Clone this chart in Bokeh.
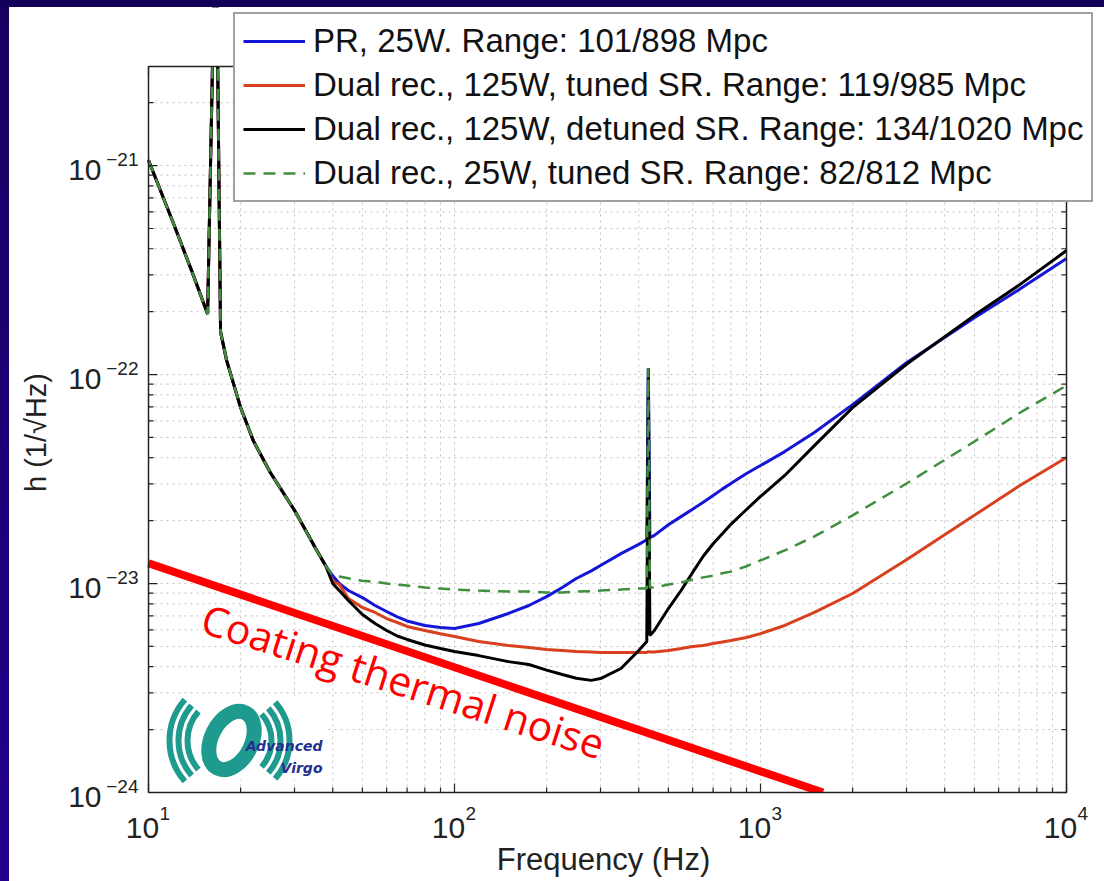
import math
from bokeh.plotting import figure
from bokeh.models import Legend, LegendItem, Label, Spacer
from bokeh.layouts import column, row
from bokeh.embed import file_html
from bokeh.resources import INLINE

# ---------------- data ----------------
freq = [10, 12, 14, 15.6, 16.6, 17.2, 18, 20, 22, 25, 30, 35, 38,
        40, 42, 45, 50, 55, 60, 65, 70, 80, 90, 100, 120, 150, 175, 200, 225, 250, 280,
        300, 350, 400, 425, 430, 435, 450, 500, 550, 600, 650, 700, 750, 800, 900, 1000,
        1200, 1500, 2000, 3000, 5000, 7000, 10000]

low_common = [1.06e-21, 5.4e-22, 3.0e-22, 1.95e-22, 2e-20, 1.6e-22, 1.17e-22,
              6.95e-23, 4.83e-23, 3.4e-23, 2.24e-23, 1.49e-23, 1.21e-23]

pr_25w = low_common + [
    1.09e-23, 1.0e-23, 9.26e-24, 8.57e-24, 7.85e-24, 7.35e-24, 6.92e-24, 6.62e-24, 6.30e-24, 6.16e-24,
    6.09e-24, 6.44e-24, 7.19e-24, 7.85e-24, 8.66e-24, 9.57e-24, 1.057e-23, 1.15e-23,
    1.22e-23, 1.39e-23, 1.54e-23, 1.62e-23, 1.07e-22, 1.66e-23, 1.70e-23, 1.91e-23, 2.09e-23,
    2.27e-23, 2.45e-23, 2.64e-23, 2.83e-23, 3.01e-23, 3.36e-23, 3.67e-23,
    4.28e-23, 5.28e-23, 7.18e-23, 1.14e-22, 1.87e-22, 2.55e-22, 3.59e-22]

dr_125w_tuned = low_common + [
    1.03e-23, 9.9e-24, 8.48e-24, 7.68e-24, 7.27e-24, 6.80e-24, 6.51e-24, 6.23e-24, 5.96e-24, 5.75e-24,
    5.58e-24, 5.28e-24, 5.05e-24, 4.94e-24, 4.83e-24, 4.78e-24, 4.73e-24, 4.70e-24,
    4.68e-24, 4.68e-24, 4.68e-24, 4.68e-24, 4.72e-24, 4.70e-24, 4.70e-24, 4.78e-24, 4.89e-24,
    5.0e-24, 5.05e-24, 5.16e-24, 5.25e-24, 5.34e-24, 5.52e-24, 5.76e-24,
    6.30e-24, 7.27e-24, 8.96e-24, 1.30e-23, 2.12e-23, 2.93e-23, 4.01e-23]

dr_125w_detuned = low_common + [
    1.0e-23, 9.26e-24, 8.29e-24, 7.11e-24, 6.44e-24, 5.96e-24, 5.61e-24, 5.40e-24, 5.08e-24, 4.89e-24,
    4.73e-24, 4.52e-24, 4.23e-24, 4.10e-24, 3.85e-24, 3.67e-24, 3.52e-24, 3.44e-24,
    3.51e-24, 3.92e-24, 4.78e-24, 5.28e-24, 1.07e-22, 5.64e-24, 5.96e-24, 7.59e-24, 9.26e-24,
    1.13e-23, 1.35e-23, 1.55e-23, 1.73e-23, 1.92e-23, 2.26e-23, 2.61e-23,
    3.29e-23, 4.57e-23, 6.95e-23, 1.12e-22, 1.92e-22, 2.68e-22, 3.92e-22]

dr_25w_tuned = low_common + [
    1.09e-23, 1.08e-23, 1.06e-23, 1.03e-23, 1.02e-23, 1.0e-23, 9.89e-24, 9.78e-24, 9.57e-24, 9.46e-24,
    9.36e-24, 9.26e-24, 9.16e-24, 9.16e-24, 9.06e-24, 9.06e-24, 9.16e-24, 9.2e-24,
    9.26e-24, 9.36e-24, 9.46e-24, 9.46e-24, 1.07e-22, 9.57e-24, 9.57e-24, 9.89e-24, 1.01e-23,
    1.045e-23, 1.07e-23, 1.09e-23, 1.12e-23, 1.14e-23, 1.21e-23, 1.29e-23,
    1.44e-23, 1.68e-23, 2.12e-23, 3.01e-23, 4.78e-23, 6.53e-23, 8.86e-23]

coating_f = [10, 1600]
coating_h = [1.25e-23, 1.0e-24]

labels = ["PR, 25W. Range: 101/898 Mpc",
          "Dual rec., 125W, tuned SR. Range: 119/985 Mpc",
          "Dual rec., 125W, detuned SR. Range: 134/1020 Mpc",
          "Dual rec., 25W, tuned SR. Range: 82/812 Mpc"]

X_MIN, X_MAX = 10, 1e4
Y_MIN, Y_MAX = 1e-24, 2.98e-21

x_major = [10, 100, 1000, 10000]
x_exp = ["1", "2", "3", "4"]
y_major = [1e-24, 1e-23, 1e-22, 1e-21]
y_exp = ["\u221224", "\u221223", "\u221222", "\u221221"]
x_minor = [k * d for d in (10, 100, 1000) for k in range(2, 10)]
y_minor = [k * d for d in (1e-24, 1e-23, 1e-22, 1e-21) for k in range(2, 10) if k * d <= Y_MAX]

# ---------------- geometry of the page (pixels) ----------------
PAGE_W, PAGE_H = 1104, 881
FIG_LEFT, FIG_TOP = 9, 7                 # navy slide border
BOX_L, BOX_R, BOX_T, BOX_B = 148, 1066, 66, 792
DEC_X = (BOX_R - BOX_L) / math.log10(X_MAX / X_MIN)
DEC_Y = (BOX_B - BOX_T) / math.log10(Y_MAX / Y_MIN)


def fx(px):  # page x pixel -> frequency
    return 10 ** (math.log10(X_MIN) + (px - BOX_L) / DEC_X)


def fy(py):  # page y pixel -> strain
    return 10 ** (math.log10(Y_MIN) + (BOX_B - py) / DEC_Y)


FONT = "Liberation Sans"
INK = "#222222"
p = figure(width=PAGE_W - FIG_LEFT, height=PAGE_H - FIG_TOP,
           x_axis_type="log", y_axis_type="log",
           x_range=(fx(FIG_LEFT), fx(PAGE_W)), y_range=(fy(PAGE_H), fy(FIG_TOP)),
           x_axis_location=None, y_axis_location=None,
           output_backend="svg", toolbar_location=None, min_border=0,
           background_fill_color="white", border_fill_color="white")
p.outline_line_color = None
p.xgrid.visible = False
p.ygrid.visible = False

# ---------------- grid (dotted, major + minor) ----------------
gx = x_major + x_minor
gy = y_major + y_minor
p.segment(x0=gx, y0=[Y_MIN] * len(gx), x1=gx, y1=[Y_MAX] * len(gx),
          line_color="#c0c0c0", line_dash="2 4", line_width=1)
p.segment(x0=[X_MIN] * len(gy), y0=gy, x1=[X_MAX] * len(gy), y1=gy,
          line_color="#c0c0c0", line_dash="2 4", line_width=1)

# ---------------- logo (Advanced Virgo) ----------------
p.rect(x=[fx(245)], y=[fy(738)], width=162, height=82, width_units="screen",
       height_units="screen", fill_color="white", line_color=None)
teal = "#1f9a8e"
lx, ly = fx(231), fy(740)
p.arc(x=[lx] * 3, y=[ly] * 3, radius=[44, 53, 62], radius_units="screen",
      start_angle=math.pi - 0.72, end_angle=math.pi + 0.72, line_color=teal, line_width=6)
p.arc(x=[lx] * 3, y=[ly] * 3, radius=[40, 49, 58], radius_units="screen",
      start_angle=-0.72, end_angle=0.72, line_color=teal, line_width=6)
p.ellipse(x=[lx], y=[ly], width=62, height=40, angle=1.1,
          width_units="screen", height_units="screen",
          fill_color=None, line_color=teal, line_width=15)

# ---------------- curves ----------------
r_pr = p.line(freq, pr_25w, line_color="#1515d8", line_width=3)
r_tuned = p.line(freq, dr_125w_tuned, line_color="#d8401e", line_width=3)
r_det = p.line(freq, dr_125w_detuned, line_color="#000000", line_width=3)
r_25 = p.line(freq, dr_25w_tuned, line_color="#3f8f3f", line_width=2.5, line_dash="12 8")

# coating thermal noise line
p.line(coating_f, coating_h, line_color="#ff0000", line_width=8)

# mask everything that leaks out of the axes box (the box clips its content)
p.quad(left=[fx(FIG_LEFT)], right=[fx(PAGE_W)], bottom=[Y_MAX], top=[fy(FIG_TOP)],
       fill_color="white", line_color=None)
p.quad(left=[fx(FIG_LEFT)], right=[fx(PAGE_W)], bottom=[fy(PAGE_H)], top=[Y_MIN],
       fill_color="white", line_color=None)

# axes box
p.quad(left=[X_MIN], right=[X_MAX], bottom=[Y_MIN], top=[Y_MAX],
       fill_color=None, line_color=INK, line_width=1.5)

# inward ticks on all four sides
for xs, ys, ang, ln in (
        (x_major, [Y_MIN] * 4, math.pi / 2, 9), (x_minor, [Y_MIN] * len(x_minor), math.pi / 2, 5),
        (x_major, [Y_MAX] * 4, -math.pi / 2, 9), (x_minor, [Y_MAX] * len(x_minor), -math.pi / 2, 5),
        ([X_MIN] * 4, y_major, 0, 9), ([X_MIN] * len(y_minor), y_minor, 0, 5),
        ([X_MAX] * 4, y_major, math.pi, 9), ([X_MAX] * len(y_minor), y_minor, math.pi, 5)):
    p.ray(x=xs, y=ys, length=ln, length_units="screen", angle=ang,
          line_color=INK, line_width=1.2)

# ---------------- tick labels 10^n ----------------
for v, e in zip(x_major, x_exp):
    p.add_layout(Label(x=v, y=Y_MIN, x_offset=-6, y_offset=-35, text="10",
                       text_align="center", text_baseline="middle", text_font=FONT,
                       text_font_size="30px", text_color=INK))
    p.add_layout(Label(x=v, y=Y_MIN, x_offset=11, y_offset=-21, text=e,
                       text_align="left", text_baseline="middle", text_font=FONT,
                       text_font_size="19px", text_color=INK))
for v, e in zip(y_major, y_exp):
    p.add_layout(Label(x=X_MIN, y=v, x_offset=-47, y_offset=-4, text="10",
                       text_align="right", text_baseline="middle", text_font=FONT,
                       text_font_size="30px", text_color=INK))
    p.add_layout(Label(x=X_MIN, y=v, x_offset=-10, y_offset=6, text=e,
                       text_align="right", text_baseline="middle", text_font=FONT,
                       text_font_size="19px", text_color=INK))

# axis titles
p.add_layout(Label(x=fx(603), y=fy(859), text="Frequency (Hz)", text_align="center",
                   text_baseline="middle", text_font=FONT, text_font_size="31px",
                   text_color=INK))
p.add_layout(Label(x=fx(35), y=fy(432), text="h (1/\u221aHz)", angle=math.pi / 2,
                   text_align="center", text_baseline="middle", text_font=FONT,
                   text_font_size="29px", text_color=INK))

# logo texts
for txt, py in (("Advanced", 745), ("Virgo", 767)):
    p.add_layout(Label(x=fx(322), y=fy(py), text=txt, text_align="right",
                       text_baseline="middle", text_font="DejaVu Sans",
                       text_font_style="bold italic", text_font_size="14px",
                       text_color="#24308f"))

# coating thermal noise text
p.add_layout(Label(x=fx(403), y=fy(680), text="Coating thermal noise", angle=-0.31,
                   text_align="center", text_baseline="middle",
                   text_font="Open Sans", text_font_size="41px",
                   text_color="#ff0000"))

# ---------------- legend ----------------
legend = Legend(items=[LegendItem(label=labels[0], renderers=[r_pr]),
                       LegendItem(label=labels[1], renderers=[r_tuned]),
                       LegendItem(label=labels[2], renderers=[r_det]),
                       LegendItem(label=labels[3], renderers=[r_25])],
                location=(233 - FIG_LEFT, PAGE_H - 202))
legend.label_text_font = FONT
legend.label_text_font_size = "33px"
legend.label_text_color = "#111111"
legend.glyph_width = 62
legend.glyph_height = 36
legend.label_height = 36
legend.spacing = 6
legend.padding = 8
legend.margin = 0
legend.label_standoff = 8
legend.border_line_color = "#444444"
legend.border_line_width = 2
legend.background_fill_color = "white"
legend.background_fill_alpha = 1
p.add_layout(legend)

# ---------------- page frame (navy slide border) ----------------
top_bar = Spacer(width=PAGE_W, height=FIG_TOP, styles={"background": "#120058"})
left_bar = Spacer(width=FIG_LEFT, height=PAGE_H - FIG_TOP,
                  styles={"background": "linear-gradient(#150060, #22008c)"})
layout = column(top_bar, row(left_bar, p, spacing=0), spacing=0)

open("out.html", "w").write(file_html(layout, INLINE))
